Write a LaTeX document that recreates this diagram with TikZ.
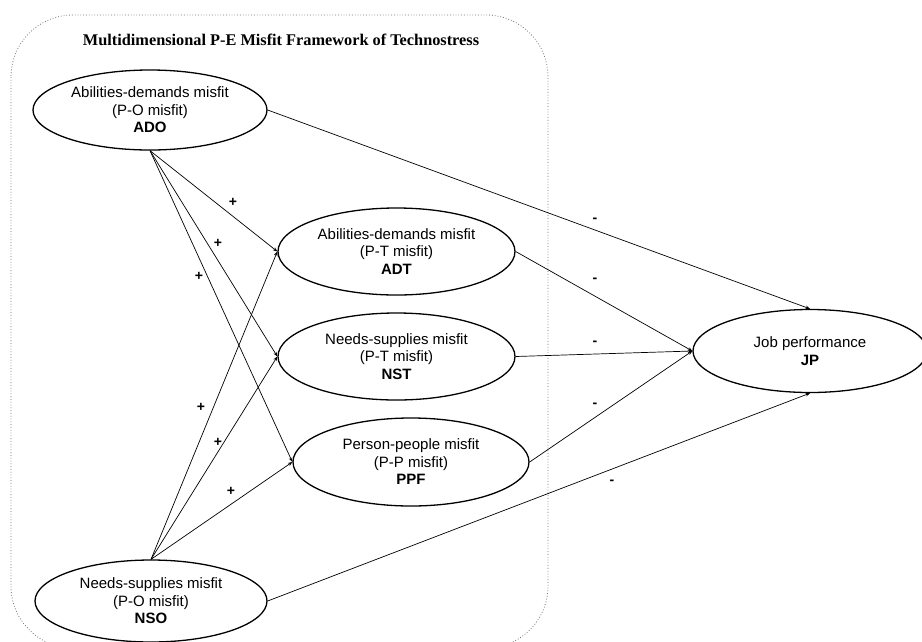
\documentclass[tikz,border=0pt]{standalone}
\usepackage{fontspec}
\setmainfont{Liberation Sans}
\newfontfamily\titlefont{Liberation Serif}
\usetikzlibrary{shapes.geometric,arrows.meta}

\begin{document}
\begin{tikzpicture}[x=1pt,y=-1pt,
  construct/.style={draw, ellipse, line width=1.3pt, inner sep=0pt,
    align=center, font=\fontsize{15}{17.5}\selectfont},
  path/.style={draw, line width=0.7pt, -{Stealth[length=4.5pt,width=3.5pt]}},
  sign/.style={font=\fontsize{14}{14}\selectfont\bfseries, inner sep=0pt}]
\useasboundingbox (0,0) rectangle (922,641);
\fill[white] (0,0) rectangle (922,641);

% dotted frame of the framework
\draw[black!55, dotted, line width=0.8pt, rounded corners=62pt]
  (11,15) rectangle (548,648);
\node[font=\titlefont\fontsize{16.3}{16}\selectfont\bfseries] (title) at (281,40)
  {Multidimensional P-E Misfit Framework of Technostress};

% constructs
\node[construct, minimum width=234pt, minimum height=80pt] (ADO) at (150,110)
  {Abilities-demands misfit\\(P-O misfit)\\\textbf{ADO}};
\node[construct, minimum width=237pt, minimum height=87pt] (ADT) at (396.5,251.5)
  {Abilities-demands misfit\\(P-T misfit)\\\textbf{ADT}};
\node[construct, minimum width=237pt, minimum height=87pt] (NST) at (396.5,356.5)
  {Needs-supplies misfit\\(P-T misfit)\\\textbf{NST}};
\node[construct, minimum width=236pt, minimum height=88pt] (PPF) at (411,462)
  {Person-people misfit\\(P-P misfit)\\\textbf{PPF}};
\node[construct, minimum width=232pt, minimum height=82pt] (NSO) at (151,601)
  {Needs-supplies misfit\\(P-O misfit)\\\textbf{NSO}};
\node[construct, minimum width=234pt, minimum height=83pt] (JP) at (810,351)
  {Job performance\\\textbf{JP}};

% hypothesised paths
\draw[path] (ADO.south) -- (ADT.west);
\draw[path] (ADO.south) -- (NST.west);
\draw[path] (ADO.south) -- (PPF.west);
\draw[path] (NSO.north) -- (ADT.west);
\draw[path] (NSO.north) -- (NST.west);
\draw[path] (NSO.north) -- (PPF.west);
\draw[path] (ADO.east) -- (JP.north);
\draw[path] (ADT.east) -- (JP.west);
\draw[path] (NST.east) -- (JP.west);
\draw[path] (PPF.east) -- (JP.west);
\draw[path] (NSO.east) -- (JP.south);

% signs
\node[sign] (p1) at (233,202) {+};
\node[sign] (p2) at (218,243) {+};
\node[sign] (p3) at (199,276) {+};
\node[sign] (p4) at (201,407) {+};
\node[sign] (p5) at (218,442) {+};
\node[sign] (p6) at (231,491) {+};
\node[sign] (m1) at (595,220) {-};
\node[sign] (m2) at (595,280) {-};
\node[sign] (m3) at (595,343) {-};
\node[sign] (m4) at (595,405) {-};
\node[sign] (m5) at (612,482) {-};
\end{tikzpicture}
\end{document}
